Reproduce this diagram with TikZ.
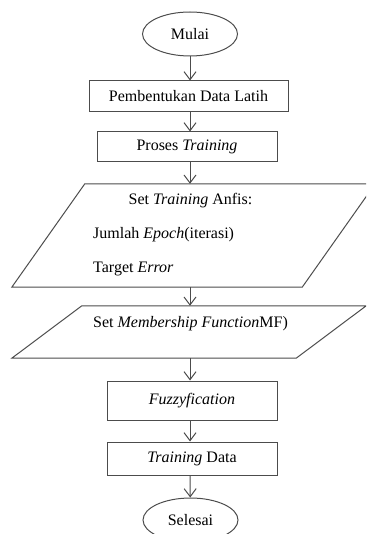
\documentclass[tikz,border=0pt]{standalone}
\usepackage{fontspec}
\setmainfont{Liberation Serif}
\usetikzlibrary{arrows.meta,shapes.geometric,calc}

\begin{document}
\begin{tikzpicture}[x=1pt,y=-1pt,
    font=\fontsize{16}{18}\selectfont,
    terminal/.style={draw=black!70, line width=1pt, ellipse, minimum width=95pt, minimum height=44pt, inner sep=0pt},
    proses/.style={draw=black!70, line width=1pt, rectangle, minimum width=170pt, inner sep=0pt},
    io/.style={rectangle, inner sep=0pt},
    panah/.style={draw=black!70, line width=1pt, -{Straight Barb[length=8pt,width=12pt]}}]
    \clip (0,0) rectangle (366,534);
    \node[terminal] (mulai) at (190,34) {Mulai};
    \node[proses, minimum width=199pt, minimum height=31pt] (bentuk) at (188.5,96.5) {Pembentukan Data Latih};
    \node[proses, minimum width=180pt, minimum height=30pt] (proses) at (187,147) {Proses \textit{Training}};
    % parallelogram 1
    \node[io, minimum width=363pt, minimum height=103pt] (anfis) at (193.5,235.5) {};
    \draw[draw=black!70, line width=1pt] ($(anfis.north west)+(73,0)$) -- (anfis.north east)
        -- ($(anfis.south east)+(-73,0)$) -- (anfis.south west) -- cycle;
    \node (anfisjudul) at (190.5,201) {Set \textit{Training} Anfis:};
    \node[anchor=west, inner sep=0pt] (epoch) at (93,235) {Jumlah \textit{Epoch}(iterasi)};
    \node[anchor=west, inner sep=0pt] (target) at (93,269) {Target \textit{Error}};
    % parallelogram 2
    \node[io, minimum width=354pt, minimum height=52pt] (mf) at (189,332) {};
    \draw[draw=black!70, line width=1pt] ($(mf.north west)+(70,0)$) -- (mf.north east)
        -- ($(mf.south east)+(-70,0)$) -- (mf.south west) -- cycle;
    \node[anchor=west, inner sep=0pt] (mfteks) at (93,324) {Set \textit{Membership Function}MF)};
    \node[proses, minimum height=39pt] (fuzzy) at (192,400.5) {\textit{Fuzzyfication}};
    \node[proses, minimum height=33pt] (latih) at (192,458.5) {\textit{Training} Data};
    \node[terminal] (selesai) at (190.5,520) {Selesai};
    \draw[panah] (mulai) -- (mulai |- bentuk.north);
    \draw[panah] (mulai |- bentuk.south) -- (mulai |- proses.north);
    \draw[panah] (mulai |- proses.south) -- (mulai |- anfis.north);
    \draw[panah] (mulai |- anfis.south) -- (mulai |- mf.north);
    \draw[panah] (mulai |- mf.south) -- (mulai |- fuzzy.north);
    \draw[panah] (mulai |- fuzzy.south) -- (mulai |- latih.north);
    \draw[panah] (mulai |- latih.south) -- (selesai);
\end{tikzpicture}
\end{document}
